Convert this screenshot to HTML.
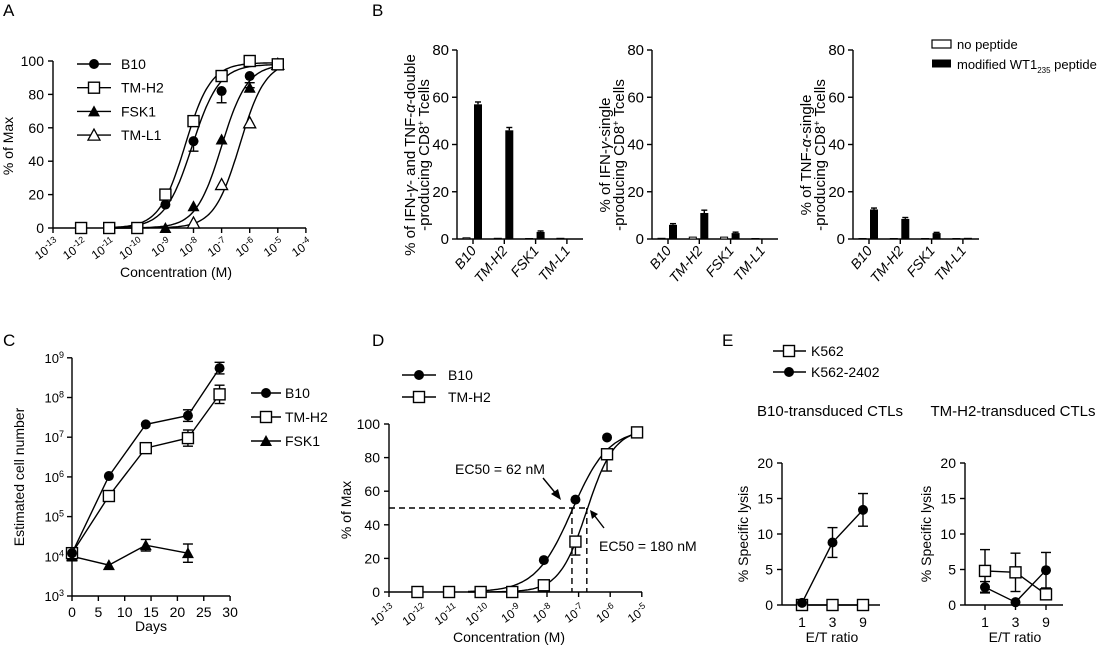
<!DOCTYPE html>
<html><head><meta charset="utf-8"><style>
body{margin:0;background:#fff}
svg{display:block;font-family:"Liberation Sans",Arial,sans-serif}
</style></head><body>
<svg id="fig" width="1100" height="646" viewBox="0 0 1100 646" xmlns="http://www.w3.org/2000/svg">
<g id="root"></g>
</svg>
<script>
// ---------- Panel A data ----------
const aLogConc = [-12,-11,-10,-9,-8,-7,-6,-5];
const aB10  = [0,0,0,14,52,82,91,98];
const aTMH2 = [0,0,0,20,64,91,100,98];
const aFSK1 = [null,null,null,0,13,53,84,98];
const aTML1 = [null,null,null,null,3,26,63,98];
const aB10Err = [0,0,0,0,6,7,0,0];
const aFSK1Err = [0,0,0,0,0,0,3,0];
const aXTicks = [-13,-12,-11,-10,-9,-8,-7,-6,-5,-4];
const aYTicks = [0,20,40,60,80,100];
// ---------- Panel B data ----------
const bCats = ["B10","TM-H2","FSK1","TM-L1"];
const b1None = [0.5,0.3,0.2,0.3];
const b1Mod  = [57,46,3,0.2];
const b1Err  = [1,1.2,0.4,0];
const b2None = [0.3,0.8,0.8,0.2];
const b2Mod  = [6,11,2.5,0.2];
const b2Err  = [0.5,1.2,0.4,0];
const b3None = [0.2,0.2,0.2,0.2];
const b3Mod  = [12.5,8.5,2.5,0.5];
const b3Err  = [0.6,0.6,0.3,0];
const bYTicks = [0,20,40,60,80];
// ---------- Panel C data ----------
const cDays = [0,7,14,22,28];
const cB10  = [1.2e4,1.05e6,2.1e7,3.5e7,5.5e8];
const cTMH2 = [1.2e4,3.3e5,5.3e6,9.5e6,1.2e8];
const cFSK1 = [1e4,6e3,1.9e4,1.2e4,null];
const cB10Err = [1,1,1,1.4,1.4];
const cTMH2Err = [1,1,1,1.6,1.7];
const cFSK1Err = [1.3,1,1.4,1.7,1];
const cXTicks = [0,5,10,15,20,25,30];
const cYTicks = [3,4,5,6,7,8,9];
// ---------- Panel D data ----------
const dLogConc = [-12.1,-11.1,-10.1,-9.1,-8.1,-7.1,-6.1,-5.15];
const dB10  = [0,0,0,0,19,55,92,95];
const dTMH2 = [0,0,0,0,4,30,82,95];
const dTMH2Err = [0,0,0,0,0,8,10,0];
const dEC50 = [-7.21,-6.74];
const dXTicks = [-13,-12,-11,-10,-9,-8,-7,-6,-5];
const dYTicks = [0,20,40,60,80,100];
// ---------- Panel E data ----------
const eRatios = ["1","3","9"];
const e1K562 = [0,0,0];
const e1K2402 = [0.3,8.8,13.4];
const e1K2402Err = [0,2.1,2.3];
const e2K562 = [4.8,4.6,1.5];
const e2K562Err = [3,2.7,0];
const e2K2402 = [2.5,0.4,4.9];
const e2K2402Err = [0.8,0,2.5];
const eYTicks = [0,5,10,15,20];

const NS="http://www.w3.org/2000/svg";
const root=document.getElementById('root');
function mk(tag,attrs,parent){const e=document.createElementNS(NS,tag);for(const k in attrs)e.setAttribute(k,attrs[k]);(parent||root).appendChild(e);return e;}
function line(x1,y1,x2,y2,p,extra){const e=mk('line',Object.assign({x1,y1,x2,y2,stroke:'#000','stroke-width':1.4},extra||{}),p);

return e;}
function txt(x,y,s,opts,p){const e=mk('text',Object.assign({x,y,'font-size':13,fill:'#000'},opts||{}),p);e.textContent=s;
return e;}
function marker(type,x,y,p){let e;
 if(type==='circle') e=mk('circle',{cx:x,cy:y,r:5,fill:'#000'},p);
 else if(type==='square') e=mk('rect',{x:x-5.5,y:y-5.5,width:11,height:11,fill:'#fff',stroke:'#000','stroke-width':1.4},p);
 else if(type==='tri') e=mk('polygon',{points:`${x},${y-6} ${x-6},${y+5} ${x+6},${y+5}`,fill:'#000'},p);
 else e=mk('polygon',{points:`${x},${y-6} ${x-6},${y+5} ${x+6},${y+5}`,fill:'#fff',stroke:'#000','stroke-width':1.3},p);
 
 return e;}
function errbar(x,y1,y2,p){line(x,y1,x,y2,p);line(x-5,y1,x+5,y1,p);line(x-5,y2,x+5,y2,p);}
function pathD(pts){return pts.map((q,i)=>(i?'L':'M')+q[0].toFixed(1)+','+q[1].toFixed(1)).join('');}
function expLabel(x,y,exp,rot,p){
 const t=mk('text',{x:0,y:0,'font-size':12,'text-anchor':'end',transform:`translate(${x},${y}) rotate(${rot})`},p);
 
 
 const a=mk('tspan',{},t);a.textContent='10';
 const b=mk('tspan',{'font-size':9,dy:-5},t);b.textContent=String(exp);
}
function panelLabel(x,y,s){const e=txt(x,y,s,{'font-size':17});}
function hill(lx,ec,top,h){return top/(1+Math.pow(10,(ec-lx)*h));}

// ======== Panel A ========
(function(){
 const g=mk('g',{});
 const X=v=>53+(v+13)*28.1, Y=v=>228-v*1.67;
 line(53,Y(100),53,228,g);line(53,228,306,228,g);
 aYTicks.forEach(t=>{line(48,Y(t),53,Y(t),g);const e=txt(44,Y(t)+5,String(t),{'text-anchor':'end','font-size':14},g);});
 aXTicks.forEach(t=>{line(X(t),228,X(t),233,g);expLabel(X(t)+7,245,t,-35,g);});
 const ya=txt(0,0,'% of Max',{'text-anchor':'middle','font-size':14,transform:'translate(13,146) rotate(-90)'},g);
 const xa=txt(176,277,'Concentration (M)',{'text-anchor':'middle','font-size':14},g);
 const fits=[[-8.05,98,0.9],[-8.3,99,0.95],[-7.0,98,0.95],[-6.35,100,0.95]];
 fits.forEach(f=>{const pts=[];for(let lx=-11;lx<=-5.001;lx+=0.05)pts.push([X(lx),Y(hill(lx,f[0],f[1],f[2]))]);pts.push([X(-5),Y(98)]);
  const c=mk('path',{d:pathD(pts),fill:'none',stroke:'#000','stroke-width':1.4},g);});
 aLogConc.forEach((lx,i)=>{if(aB10Err[i])errbar(X(lx),Y(aB10[i]),Y(aB10[i]-aB10Err[i]),g);if(aFSK1Err[i])errbar(X(lx),Y(aFSK1[i]),Y(aFSK1[i]+aFSK1Err[i]),g);});
 const series=[[aTML1,'otri'],[aFSK1,'tri'],[aB10,'circle'],[aTMH2,'square']];
 series.forEach(s=>aLogConc.forEach((lx,i)=>{if(s[0][i]!==null)marker(s[1],X(lx),Y(s[0][i]),g);}));
 const leg=[['B10','circle'],['TM-H2','square'],['FSK1','tri'],['TM-L1','otri']];
 leg.forEach((l,i)=>{const y=64+i*23.7;line(77,y,111,y,g);marker(l[1],94,y,g);const e=txt(121,y+5,l[0],{'font-size':14},g);});
})();
panelLabel(3,16,'A');

// ======== Panel B ========
function barPanel(ax,none,mod,err,t1,t2,name){
 const g=mk('g',{});
 const Y=v=>239-v*2.3625;
 line(ax,Y(80),ax,239,g);line(ax,239,ax+126,239,g);
 bYTicks.forEach(t=>{line(ax-5,Y(t),ax,Y(t),g);const e=txt(ax-8,Y(t)+5,String(t),{'text-anchor':'end','font-size':15},g);});
 bCats.forEach((c,i)=>{const tx=ax+16+i*31.3;line(tx,239,tx,244,g);
  const w=mk('rect',{x:tx-10,y:Y(none[i]),width:7,height:239-Y(none[i]),fill:'#fff',stroke:'#000','stroke-width':1},g);
  const b=mk('rect',{x:tx+1,y:Y(mod[i]),width:8,height:239-Y(mod[i]),fill:'#000'},g);
  if(err[i]){line(tx+5,Y(mod[i]+err[i]),tx+5,Y(mod[i]),g);line(tx+2,Y(mod[i]+err[i]),tx+8,Y(mod[i]+err[i]),g);}
  const e=txt(0,0,c,{'text-anchor':'end','font-size':14,'font-style':'italic',transform:`translate(${tx+4},${251}) rotate(-50)`},g);
 });
 const a=txt(0,0,'',{'text-anchor':'middle','font-size':15,transform:`translate(${ax-42},${155}) rotate(-90)`},g);
 a.innerHTML=t1;
 const b=txt(0,0,'',{'text-anchor':'middle','font-size':15,transform:`translate(${ax-28},${155}) rotate(-90)`},g);
 b.innerHTML=t2;
}
barPanel(457,b1None,b1Mod,b1Err,'% of IFN-<tspan font-style="italic">γ</tspan>- and TNF-<tspan font-style="italic">α</tspan>-double','-producing CD8<tspan font-size="9" dy="-5">+</tspan><tspan dy="5"> Tcells</tspan>','panel-b-double');
barPanel(652,b2None,b2Mod,b2Err,'% of IFN-<tspan font-style="italic">γ</tspan>-single','-producing CD8<tspan font-size="9" dy="-5">+</tspan><tspan dy="5"> Tcells</tspan>','panel-b-ifn');
barPanel(853,b3None,b3Mod,b3Err,'% of TNF-<tspan font-style="italic">α</tspan>-single','-producing CD8<tspan font-size="9" dy="-5">+</tspan><tspan dy="5"> Tcells</tspan>','panel-b-tnf');
(function(){
 const g=mk('g',{});
 mk('rect',{x:932,y:40,width:19,height:8,fill:'#fff',stroke:'#000','stroke-width':1.2},g);
 mk('rect',{x:932,y:59.5,width:19,height:8,fill:'#000'},g);
 const a=txt(957,49,'no peptide',{'font-size':13},g);
 const b=txt(957,69,'',{'font-size':13},g);
 b.innerHTML='modified WT1<tspan font-size="8" dy="4">235</tspan><tspan dy="-4"> peptide</tspan>';
})();
panelLabel(372,16,'B');

// ======== Panel C ========
(function(){
 const g=mk('g',{});
 const X=v=>72+v*5.27, Y=v=>596-(Math.log10(v)-3)*39.7, YL=l=>596-(l-3)*39.7;
 line(72,YL(9),72,596,g);line(72,596,230,596,g);
 cYTicks.forEach(t=>{line(67,YL(t),72,YL(t),g);const e=mk('text',{x:64,y:YL(t)+5,'font-size':13,'text-anchor':'end'},g);
  const a=mk('tspan',{},e);a.textContent='10';const b=mk('tspan',{'font-size':9,dy:-5},e);b.textContent=String(t);});
 cXTicks.forEach(t=>{line(X(t),596,X(t),601,g);const e=txt(X(t),617,String(t),{'text-anchor':'middle','font-size':14},g);});
 const ya=txt(0,0,'Estimated cell number',{'text-anchor':'middle','font-size':14,transform:'translate(24,477) rotate(-90)'},g);
 const xa=txt(151,631,'Days',{'text-anchor':'middle','font-size':14},g);
 const ser=[[cFSK1,cFSK1Err,'tri'],[cTMH2,cTMH2Err,'square'],[cB10,cB10Err,'circle']];
 ser.forEach(s=>{const pts=[];cDays.forEach((d,i)=>{if(s[0][i]!==null)pts.push([X(d),Y(s[0][i])]);});
  const p=mk('path',{d:pathD(pts),fill:'none',stroke:'#000','stroke-width':1.4},g);
  cDays.forEach((d,i)=>{if(s[0][i]!==null&&s[1][i]>1)errbar(X(d),Y(s[0][i]*s[1][i]),Y(s[0][i]/s[1][i]),g);});
  cDays.forEach((d,i)=>{if(s[0][i]!==null)marker(s[2],X(d),Y(s[0][i]),g);});});
 [['B10','circle'],['TM-H2','square'],['FSK1','tri']].forEach((l,i)=>{const y=393+i*24;line(251,y,281,y,g);marker(l[1],266,y,g);const e=txt(285,y+5,l[0],{'font-size':14},g);});
})();
panelLabel(3,346,'C');

// ======== Panel D ========
(function(){
 const g=mk('g',{});
 const X=v=>389+(v+13)*31.6, Y=v=>592-v*1.68;
 line(389,Y(100),389,592,g);line(389,592,642,592,g);
 dYTicks.forEach(t=>{line(384,Y(t),389,Y(t),g);const e=txt(380,Y(t)+5,String(t),{'text-anchor':'end','font-size':14},g);});
 dXTicks.forEach(t=>{line(X(t),592,X(t),597,g);expLabel(X(t)+7,611,t,-35,g);});
 const ya=txt(0,0,'% of Max',{'text-anchor':'middle','font-size':14,transform:'translate(351,510) rotate(-90)'},g);
 const xa=txt(509,642,'Concentration (M)',{'text-anchor':'middle','font-size':14},g);
 const dash={'stroke-dasharray':'6,4'};
 line(389,Y(50),X(dEC50[1]),Y(50),g,dash);
 dEC50.forEach(e=>line(X(e),Y(50),X(e),592,g,dash));
 [[dEC50[0],0.75],[dEC50[1],1.0]].forEach(f=>{const pts=[];for(let lx=-10.5;lx<=-5.15;lx+=0.05)pts.push([X(lx),Y(hill(lx,f[0],97,f[1]))]);
  const c=mk('path',{d:pathD(pts),fill:'none',stroke:'#000','stroke-width':1.4},g);});
 dLogConc.forEach((lx,i)=>{if(dTMH2Err[i])errbar(X(lx),Y(dTMH2[i]),Y(dTMH2[i]-dTMH2Err[i]),g);});
 dLogConc.forEach((lx,i)=>marker('circle',X(lx),Y(dB10[i]),g));
 dLogConc.forEach((lx,i)=>marker('square',X(lx),Y(dTMH2[i]),g));
 const t1=txt(455,474,'EC50 = 62 nM',{'font-size':14},g);
 const t2=txt(599,551,'EC50 = 180 nM',{'font-size':14},g);
 line(543,478,557,495,g);mk('polygon',{points:'561,500 551,494 558,489',fill:'#000'},g);
 line(604,528,594,515,g);mk('polygon',{points:'590,510 598,514 592,519',fill:'#000'},g);
 [['B10','circle'],['TM-H2','square']].forEach((l,i)=>{const y=375+i*22;line(402,y,436,y,g);marker(l[1],419,y,g);const e=txt(448,y+5,l[0],{'font-size':14},g);});
})();
panelLabel(372,346,'D');

// ======== Panel E ========
function ePanel(ax,k562,k562Err,k2402,k2402Err,title,name){
 const g=mk('g',{});
 const Y=v=>605-v*7.1, X=i=>ax+20+i*30.5;
 line(ax,Y(20),ax,605,g);line(ax,605,ax+98,605,g);
 eYTicks.forEach(t=>{line(ax-5,Y(t),ax,Y(t),g);const e=txt(ax-9,Y(t)+5,String(t),{'text-anchor':'end','font-size':14},g);});
 eRatios.forEach((r,i)=>{line(X(i),605,X(i),610,g);const e=txt(X(i),627,r,{'text-anchor':'middle','font-size':14},g);});
 const xa=txt(ax+50,642,'E/T ratio',{'text-anchor':'middle','font-size':14},g);
 const ya=txt(0,0,'% Specific lysis',{'text-anchor':'middle','font-size':14,transform:`translate(${ax-34},${534}) rotate(-90)`},g);
 const tt=txt(ax+48,416,title,{'text-anchor':'middle','font-size':15},g);
 [[k562,k562Err,'square'],[k2402,k2402Err,'circle']].forEach(s=>{
  const p=mk('path',{d:pathD(s[0].map((v,i)=>[X(i),Y(v)])),fill:'none',stroke:'#000','stroke-width':1.4},g);
  s[0].forEach((v,i)=>{if(s[1][i])errbar(X(i),Y(v+s[1][i]),Y(Math.max(0,v-s[1][i])),g);});
  s[0].forEach((v,i)=>marker(s[2],X(i),Y(v),g));});
}
ePanel(782,e1K562,[0,0,0],e1K2402,e1K2402Err,'B10-transduced CTLs','panel-e-b10');
ePanel(965,e2K562,e2K562Err,e2K2402,e2K2402Err,'TM-H2-transduced CTLs','panel-e-tmh2');
(function(){
 const g=mk('g',{});
 [['K562','square'],['K562-2402','circle']].forEach((l,i)=>{const y=351+i*21;line(773,y,806,y,g);marker(l[1],789,y,g);const e=txt(811,y+5,l[0],{'font-size':14},g);});
})();
panelLabel(722,346,'E');
</script>
</body></html>
